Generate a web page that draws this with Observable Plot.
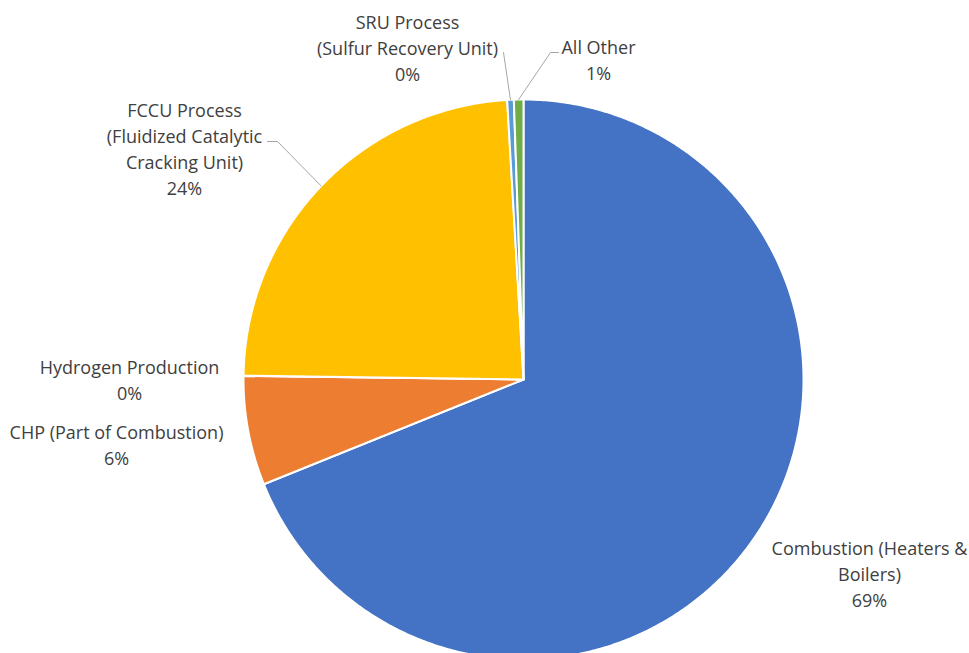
<!DOCTYPE html>
<html>
<head>
<meta charset="utf-8">
<script src="https://cdn.jsdelivr.net/npm/d3@7"></script>
<script src="https://cdn.jsdelivr.net/npm/@observablehq/plot@0.6"></script>
<style>
  html, body { margin: 0; padding: 0; background: #fff; }
  #chart svg { display: block; }
</style>
</head>
<body>
<div id="chart"></div>
<script>
// ---- data ----
const categories = [
  "Combustion (Heaters & Boilers)",
  "CHP (Part of Combustion)",
  "Hydrogen Production",
  "FCCU Process (Fluidized Catalytic Cracking Unit)",
  "SRU Process (Sulfur Recovery Unit)",
  "All Other"
];
const values = [68.9, 6.3, 0.02, 23.85, 0.38, 0.55];
const labelLines = [
  ["Combustion (Heaters &", "Boilers)"],
  ["CHP (Part of Combustion)"],
  ["Hydrogen Production"],
  ["FCCU Process", "(Fluidized Catalytic", "Cracking Unit)"],
  ["SRU Process", "(Sulfur Recovery Unit)"],
  ["All Other"]
];

// ---- style / layout ----
const colors = ["#4472C4", "#ED7D31", "#A5A5A5", "#FFC000", "#5B9BD5", "#70AD47"];
const W = 969, H = 653;
const cx = 523, cy = 379, R = 280;
const labelPos = [[869, 572.5], [116, 443.5], [129, 378.5], [184, 147], [407, 46], [598, 58]];
const leaderStarts = {4: [[503, 52]], 5: [[558, 52], [550, 52]], 3: [[267, 141], [277, 141]]};

const X = px => (px - cx) / R;
const Y = py => (cy - py) / R;

const total = d3.sum(values);
let cum = 0;
const slices = values.map((v, i) => {
  const a0 = cum / total * 2 * Math.PI;
  cum += v;
  const a1 = cum / total * 2 * Math.PI;
  return {i, name: categories[i], value: v, a0, a1, mid: (a0 + a1) / 2};
});

function polygon(s) {
  const pts = [{x: 0, y: 0}];
  const n = Math.max(2, Math.ceil((s.a1 - s.a0) / (Math.PI / 360)));
  for (let k = 0; k <= n; k++) {
    const a = s.a0 + (s.a1 - s.a0) * k / n;
    pts.push({x: Math.sin(a), y: Math.cos(a)});
  }
  pts.push({x: 0, y: 0});
  return pts;
}

const labels = slices.map(s => ({
  x: X(labelPos[s.i][0]),
  y: Y(labelPos[s.i][1]),
  text: [...labelLines[s.i], Math.round(s.value / total * 100) + "%"].join("\n")
}));

const leaders = [];
Object.entries(leaderStarts).forEach(([k, starts]) => {
  const s = slices[+k];
  starts.forEach(p => leaders.push({k: +k, x: X(p[0]), y: Y(p[1])}));
  leaders.push({k: +k, x: Math.sin(s.mid), y: Math.cos(s.mid)});
});

const marks = slices.map(s =>
  Plot.line(polygon(s), {
    x: "x", y: "y", fill: colors[s.i], stroke: "#ffffff",
    strokeWidth: 2, strokeLinejoin: "round", curve: "linear"
  })
);
marks.push(Plot.line(leaders, {x: "x", y: "y", z: "k", stroke: "#a6a6a6", strokeWidth: 1}));
marks.push(Plot.text(labels, {
  x: "x", y: "y", text: "text", fontSize: 18, lineHeight: 1.44,
  fill: "#404040", textAnchor: "middle", lineAnchor: "middle",
  fontFamily: "Open Sans"
}));

const chart = Plot.plot({
  width: W, height: H,
  marginTop: 0, marginRight: 0, marginBottom: 0, marginLeft: 0,
  x: {domain: [X(0), X(W)], axis: null},
  y: {domain: [Y(H), Y(0)], axis: null},
  style: {background: "#fff", fontFamily: "Open Sans"},
  marks
});
document.getElementById("chart").appendChild(chart);
</script>
</body>
</html>
